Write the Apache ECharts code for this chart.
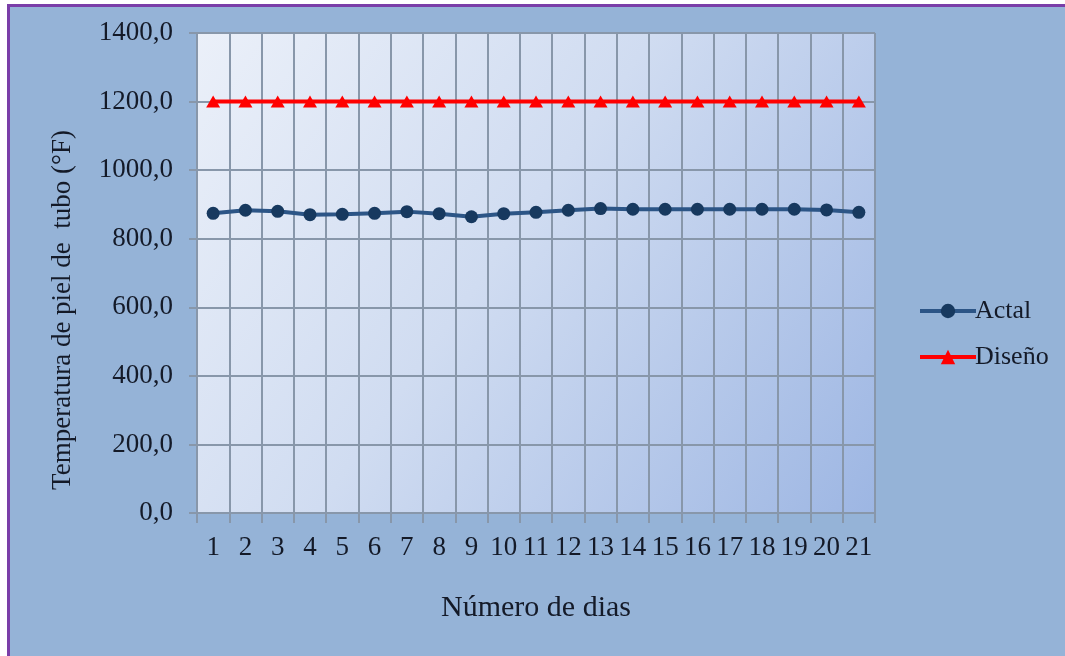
<!DOCTYPE html>
<html>
<head>
<meta charset="utf-8">
<script src="https://cdn.jsdelivr.net/npm/echarts@6/dist/echarts.min.js"></script>
<style>
  html, body { margin: 0; padding: 0; background: #ffffff; }
  #chart { width: 1065px; height: 656px; }
</style>
</head>
<body>
<div id="chart"></div>
<script>
// Días de medición (eje X)
const dias = ['1','2','3','4','5','6','7','8','9','10','11','12','13','14','15','16','17','18','19','20','21'];
// Temperatura de piel de tubo medida (°F)
const actal = [874, 883, 880, 870, 871, 874, 879, 873, 864, 873, 877, 883, 888, 886, 886, 886, 886, 886, 886, 884, 877];
// Temperatura de diseño (°F)
const diseno = [1200, 1200, 1200, 1200, 1200, 1200, 1200, 1200, 1200, 1200, 1200, 1200, 1200, 1200, 1200, 1200, 1200, 1200, 1200, 1200, 1200];
// Escala del eje Y
const yMin = 0, yMax = 1400, yStep = 200;

const serif = '"Liberation Serif", "Times New Roman", serif';
const textColor = '#141a28';
const gridLine = '#8897aa';

const chart = echarts.init(document.getElementById('chart'), null, { renderer: 'canvas' });

chart.setOption({
  backgroundColor: '#95b3d7',
  animation: false,
  textStyle: { fontFamily: serif, color: textColor },
  graphic: [
    // white margin and purple frame around the chart area
    { type: 'rect', shape: { x: 0, y: 0, width: 1065, height: 4 }, style: { fill: '#ffffff' }, silent: true },
    { type: 'rect', shape: { x: 0, y: 0, width: 7, height: 656 }, style: { fill: '#ffffff' }, silent: true },
    { type: 'rect', shape: { x: 7, y: 4, width: 1058, height: 3 }, style: { fill: '#7a3ea8' }, silent: true },
    { type: 'rect', shape: { x: 7, y: 4, width: 3, height: 652 }, style: { fill: '#7a3ea8' }, silent: true }
  ],
  grid: {
    left: 197, right: 190, top: 33, bottom: 143,
    show: true,
    borderWidth: 0,
    backgroundColor: {
      type: 'linear', x: 0, y: 0, x2: 1, y2: 1,
      colorStops: [
        { offset: 0, color: '#ebf0f9' },
        { offset: 0.45, color: '#d0dcf1' },
        { offset: 1, color: '#9db6e3' }
      ]
    }
  },
  legend: {
    orient: 'vertical',
    left: 913, top: 293,
    itemWidth: 56, itemHeight: 18, itemGap: 20,
    textStyle: { fontFamily: serif, fontSize: 26, color: textColor, padding: [0, 0, 0, -6] },
    data: [
      { name: 'Actal', lineStyle: { width: 4 } },
      { name: 'Diseño', lineStyle: { width: 4 } }
    ]
  },
  xAxis: {
    type: 'category',
    data: dias,
    boundaryGap: true,
    name: 'Número de dias',
    nameLocation: 'middle',
    nameGap: 80,
    nameTextStyle: { fontFamily: serif, fontSize: 30, color: textColor },
    axisLine: { show: true, lineStyle: { color: gridLine, width: 2 } },
    axisTick: { show: true, length: 10, lineStyle: { color: gridLine, width: 2 } },
    axisLabel: { fontFamily: serif, fontSize: 27, color: textColor, margin: 21, interval: 0 },
    splitLine: { show: true, interval: 0, lineStyle: { color: gridLine, width: 2 } }
  },
  yAxis: {
    type: 'value',
    min: yMin, max: yMax, interval: yStep,
    name: 'Temperatura de piel de  tubo (°F)',
    nameLocation: 'middle',
    nameGap: 121,
    nameTextStyle: { fontFamily: serif, fontSize: 27, color: textColor, padding: [0, 74, 0, 0] },
    axisLine: { show: false },
    axisTick: { show: true, length: 8, lineStyle: { color: gridLine, width: 2 } },
    axisLabel: {
      fontFamily: serif, fontSize: 27, color: textColor, margin: 24,
      formatter: v => v.toFixed(1).replace('.', ',')
    },
    splitLine: { show: true, lineStyle: { color: gridLine, width: 2 } }
  },
  series: [
    {
      name: 'Actal',
      type: 'line',
      data: actal,
      symbol: 'circle',
      symbolSize: 13,
      lineStyle: { color: '#2c5586', width: 4 },
      itemStyle: { color: '#17395f' }
    },
    {
      name: 'Diseño',
      type: 'line',
      data: diseno,
      symbol: 'triangle',
      symbolSize: [14, 12],
      lineStyle: { color: '#ff0000', width: 4 },
      itemStyle: { color: '#ff0000' }
    }
  ]
});
</script>
</body>
</html>
